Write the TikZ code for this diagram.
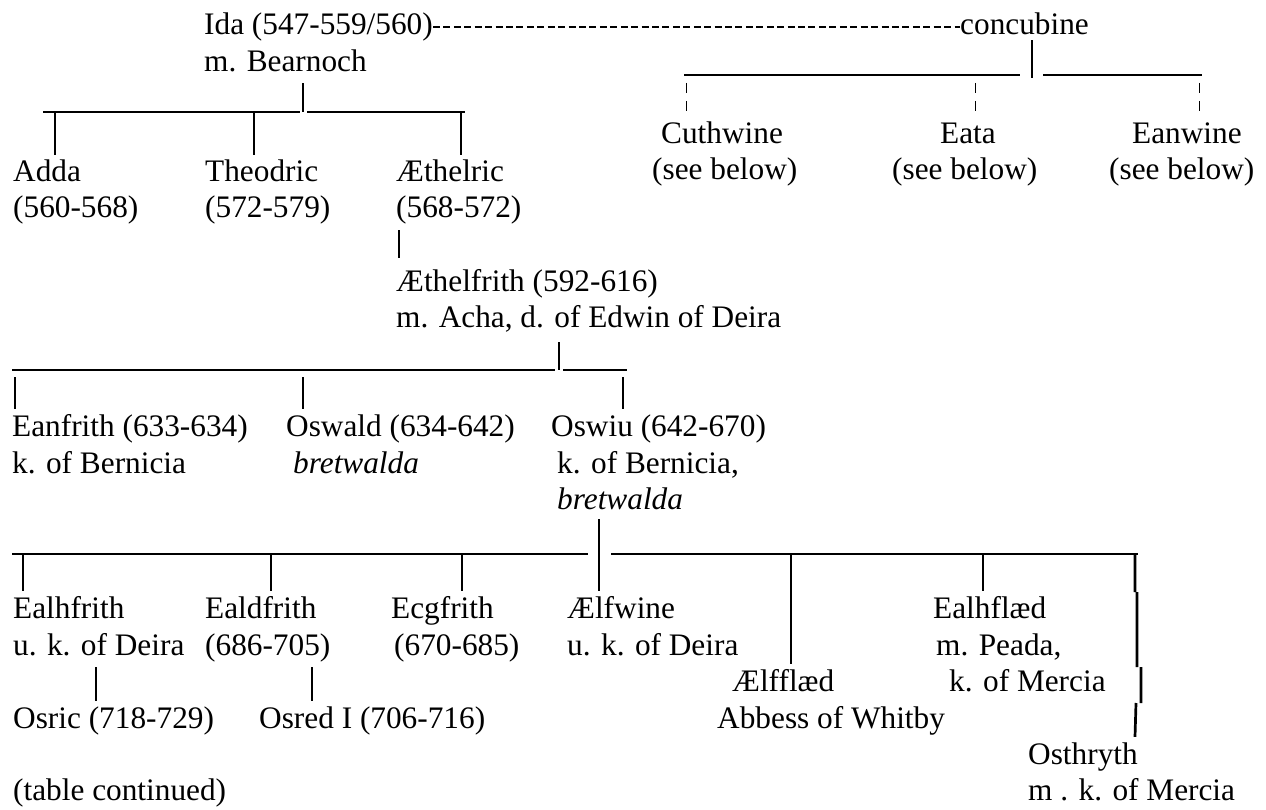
\documentclass[tikz,border=0pt]{standalone}
\usepackage{fontspec}
\setmainfont{Liberation Serif}
\usepackage{tikz}

\begin{document}
\begin{tikzpicture}[x=1pt,y=-1pt,
	person/.style={anchor=base west, inner sep=0pt, text height=27pt, text depth=8pt, font=\fontsize{31.3}{36}\selectfont},
	bar/.style={line width=1.3pt},
	drop/.style={line width=2.7pt},
	rule/.style={line width=1.6pt},
	dots/.style={line width=1pt, dash pattern=on 10pt off 8pt},
	hyph/.style={line width=1.6pt, dash pattern=on 7pt off 3.43pt}]
	\useasboundingbox (0,0) rectangle (1266,810);

	% Ida and the concubine
	\node[person] (ida) at (204,35) {Ida (547-559/560)};
	\node[person] (bearnoch) at (204,72) {m. Bearnoch};
	\node[person] (concubine) at (960,35) {concubine};
	\draw[hyph] ([yshift=8pt]ida.base east) -- ([yshift=8pt]concubine.base west);

	% sons of Ida and Bearnoch
	\node[person] (adda) at (13,182) {Adda};
	\node[person] (addadates) at (13,218) {(560-568)};
	\node[person] (theodric) at (205,182) {Theodric};
	\node[person] (theodricdates) at (205,218) {(572-579)};
	\node[person] (aethelric) at (396,182) {Æthelric};
	\node[person] (aethelricdates) at (396,218) {(568-572)};
	\coordinate (idaJ) at (303,112);
	\coordinate (idaL) at (43,112);
	\coordinate (idaR) at (465,112);
	\coordinate (addaD) at (55,113);
	\coordinate (theodricD) at (254,113);
	\coordinate (aethelricD) at (461,113);
	\draw[bar] ([xshift=99pt,yshift=-3pt]bearnoch.south west) -- (idaJ);
	\draw[rule] (idaL) -- ([xshift=-3pt]idaJ);
	\draw[rule] ([xshift=4pt]idaJ) -- (idaR);
	\draw[drop] (addaD) -- (addaD |- adda.north);
	\draw[drop] (theodricD) -- (theodricD |- theodric.north);
	\draw[drop] (aethelricD) -- (aethelricD |- aethelric.north);

	% sons of the concubine
	\node[person] (cuthwine) at (661,144) {Cuthwine};
	\node[person] (cuthwinesee) at (652,180) {(see below)};
	\node[person] (eata) at (940,144) {Eata};
	\node[person] (eatasee) at (892,180) {(see below)};
	\node[person] (eanwine) at (1132,144) {Eanwine};
	\node[person] (eanwinesee) at (1109,180) {(see below)};
	\coordinate (concJ) at (1032,75);
	\coordinate (concL) at (684,75);
	\coordinate (concR) at (1202,75);
	\coordinate (cuthwineD) at (686,83);
	\coordinate (eataD) at (975,83);
	\coordinate (eanwineD) at (1199,83);
	\draw[drop] ([xshift=72pt,yshift=3pt]concubine.south west) -- ([yshift=-3pt]concJ);
	\draw[rule] (concL) -- ([xshift=-12pt]concJ);
	\draw[rule] ([xshift=11pt]concJ) -- (concR);
	\draw[dots] (cuthwineD) -- (cuthwineD |- cuthwine.north);
	\draw[dots] (eataD) -- (eataD |- eata.north);
	\draw[dots] (eanwineD) -- (eanwineD |- eanwine.north);

	% Aethelfrith
	\node[person] (aethelfrith) at (396,291) {Æthelfrith (592-616)};
	\node[person] (acha) at (396,327) {m. Acha, d. of Edwin of Deira};
	\draw[bar] ([xshift=3pt,yshift=-4pt]aethelricdates.south west) -- ([xshift=3pt,yshift=6pt]aethelfrith.north west);

	% sons of Aethelfrith
	\node[person] (eanfrith) at (12,436) {Eanfrith (633-634)};
	\node[person] (eanfrithk) at (12,473) {k. of Bernicia};
	\node[person] (oswald) at (286,436) {Oswald (634-642)};
	\node[person] (oswaldb) at (293,473) {\itshape bretwalda};
	\node[person] (oswiu) at (551,436) {Oswiu (642-670)};
	\node[person] (oswiuk) at (557,473) {k. of Bernicia,};
	\node[person] (oswiub) at (557,509) {\itshape bretwalda};
	\coordinate (achaJ) at (559,370);
	\coordinate (achaL) at (12,370);
	\coordinate (achaR) at (627,370);
	\coordinate (eanfrithD) at (15,377);
	\coordinate (oswaldD) at (303,377);
	\coordinate (oswiuD) at (623,377);
	\draw[bar] ([xshift=163pt,yshift=-7pt]acha.south west) -- (achaJ);
	\draw[rule] (achaL) -- ([xshift=-4pt]achaJ);
	\draw[rule] ([xshift=4pt]achaJ) -- (achaR);
	\draw[bar] (eanfrithD) -- (eanfrithD |- eanfrith.north);
	\draw[bar] (oswaldD) -- (oswaldD |- oswald.north);
	\draw[bar] (oswiuD) -- (oswiuD |- oswiu.north);

	% children of Oswiu
	\node[person] (ealhfrith) at (13,618) {Ealhfrith};
	\node[person] (ealhfrithk) at (13,655) {u. k. of Deira};
	\node[person] (ealdfrith) at (205,618) {Ealdfrith};
	\node[person] (ealdfrithdates) at (205,655) {(686-705)};
	\node[person] (ecgfrith) at (391,618) {Ecgfrith};
	\node[person] (ecgfrithdates) at (394,655) {(670-685)};
	\node[person] (aelfwine) at (567,618) {Ælfwine};
	\node[person] (aelfwinek) at (567,655) {u. k. of Deira};
	\node[person] (aelfflaed) at (732,691) {Ælfflæd};
	\node[person] (whitby) at (717,728) {Abbess of Whitby};
	\node[person] (ealhflaed) at (933,618) {Ealhflæd};
	\node[person] (peada) at (936,655) {m. Peada,};
	\node[person] (ealhflaedk) at (949,691) {k. of Mercia};
	\node[person] (osthryth) at (1028,764) {Osthryth};
	\node[person] (osthrythk) at (1028,800) {m . k. of Mercia};
	\coordinate (oswiuJ) at (599,554);
	\coordinate (oswiuL) at (12,554);
	\coordinate (oswiuR) at (1138,554);
	\coordinate (ealhfrithD) at (23,554);
	\coordinate (ealdfrithD) at (271,554);
	\coordinate (ecgfrithD) at (462,554);
	\coordinate (aelfflaedD) at (791,554);
	\coordinate (ealhflaedD) at (983,554);
	\coordinate (osthrythD) at (1135,554);
	\draw[drop] ([xshift=42pt,yshift=-2pt]oswiub.south west) -- (oswiuJ |- aelfwine.north);
	\draw[rule] (oswiuL) -- ([xshift=-11pt]oswiuJ);
	\draw[rule] ([xshift=12pt]oswiuJ) -- (oswiuR);
	\draw[drop] (ealhfrithD) -- (ealhfrithD |- ealhfrith.north);
	\draw[drop] (ealdfrithD) -- (ealdfrithD |- ealdfrith.north);
	\draw[drop] (ecgfrithD) -- (ecgfrithD |- ecgfrith.north);
	\draw[drop] (aelfflaedD) -- (aelfflaedD |- aelfflaed.north);
	\draw[drop] (ealhflaedD) -- (ealhflaedD |- ealhflaed.north);
	\draw[drop] (osthrythD) -- ++(0,38) ++(2,0) -- ++(0,75) ++(4,0) -- ++(0,36) ++(-5,0) -- (osthrythD |- osthryth.north);

	% grandsons
	\node[person] (osric) at (13,728) {Osric (718-729)};
	\node[person] (osred) at (259,728) {Osred I (706-716)};
	\draw[bar] ([xshift=83pt,yshift=-4pt]ealhfrithk.south west) -- ([xshift=83pt]osric.north west);
	\draw[bar] ([xshift=107pt,yshift=-4pt]ealdfrithdates.south west) -- ([xshift=53pt]osred.north west);

	\node[person] (continued) at (13,800) {(table continued)};
\end{tikzpicture}
\end{document}
